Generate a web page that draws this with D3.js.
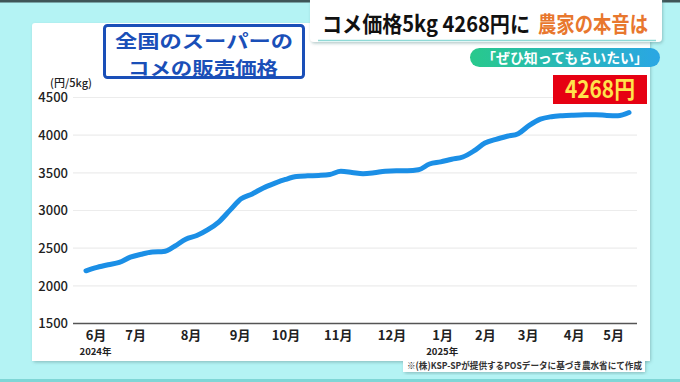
<!DOCTYPE html>
<html>
<head>
<meta charset="utf-8">
<script src="https://cdn.jsdelivr.net/npm/d3@7"></script>
<style>
  html, body { margin: 0; padding: 0; background: #b4f3f4; }
  svg { display: block; font-family: "Noto Sans CJK JP", "Noto Sans", sans-serif; }
</style>
</head>
<body>
<div id="chart"></div>
<script>
//begin: data
var firstWeek = "2024-06-03";
var prices = [
  2200, 2245, 2280, 2310, 2380, 2420, 2448, 2455, 2525, 2620,
  2668, 2745, 2850, 3005, 3155, 3220, 3300, 3360, 3412, 3450,
  3460, 3465, 3478, 3520, 3505, 3487, 3500, 3522, 3528, 3528,
  3540, 3617, 3645, 3680, 3710, 3790, 3895, 3945, 3985, 4020,
  4130, 4212, 4245, 4258, 4265, 4270, 4272, 4262, 4258, 4300
];
var yTicks = [1500, 2000, 2500, 3000, 3500, 4000, 4500];
var monthLabels = ["6月", "7月", "8月", "9月", "10月", "11月", "12月", "1月", "2月", "3月", "4月", "5月"];
var monthTickDates = ["2024-06-09", "2024-07-04", "2024-08-08", "2024-09-08", "2024-10-07", "2024-11-09",
  "2024-12-13", "2025-01-14", "2025-02-10", "2025-03-09", "2025-04-07", "2025-05-02"];
var yearLabels = ["2024年", "2025年"];
var yearTickDates = ["2024-06-09", "2025-01-14"];
var latestLabel = "4268円";
//end: data

var width = 680, height = 382;
var parseDate = d3.timeParse("%Y-%m-%d");
var start = parseDate(firstWeek);
var weeks = prices.map(function (d, i) { return { date: d3.timeDay.offset(start, 7 * i), value: d }; });

var x = d3.scaleTime()
  .domain([weeks[0].date, weeks[weeks.length - 1].date])
  .range([86, 629]);
var y = d3.scaleLinear()
  .domain([1500, 4500])
  .range([323.5, 97.5]);

var svg = d3.select("#chart").append("svg")
  .attr("width", width)
  .attr("height", height);

var defs = svg.append("defs");
var shadow = defs.append("filter").attr("id", "shadow")
  .attr("x", "-5%").attr("y", "-5%").attr("width", "110%").attr("height", "115%");
shadow.append("feDropShadow").attr("dx", 1).attr("dy", 1.5).attr("stdDeviation", 1.5)
  .attr("flood-color", "#5a8a8a").attr("flood-opacity", 0.45);
var pillGrad = defs.append("linearGradient").attr("id", "pill");
pillGrad.append("stop").attr("offset", "0%").attr("stop-color", "#28c98c");
pillGrad.append("stop").attr("offset", "100%").attr("stop-color", "#2aa6e4");

//begin: frame
svg.append("rect").attr("width", width).attr("height", height).attr("fill", "#b4f3f4");
svg.append("rect").attr("width", width).attr("height", 2.5).attr("fill", "#3f5557");
svg.append("rect").attr("y", 379).attr("width", width).attr("height", 3).attr("fill", "#7fd6d6");

svg.append("rect")
  .attr("x", 32).attr("y", 23).attr("width", 618).attr("height", 338)
  .attr("rx", 3).attr("fill", "#fff").attr("filter", "url(#shadow)");
svg.append("rect")
  .attr("x", 403).attr("y", 350).attr("width", 242).attr("height", 22)
  .attr("rx", 3).attr("fill", "#fff").attr("filter", "url(#shadow)");
svg.append("rect")
  .attr("x", 32).attr("y", 330).attr("width", 618).attr("height", 31).attr("fill", "#fff");
svg.append("rect")
  .attr("x", 403).attr("y", 350).attr("width", 242).attr("height", 22).attr("fill", "#fff");

// header
svg.append("rect")
  .attr("x", 310).attr("y", -5).attr("width", 352).attr("height", 47)
  .attr("rx", 4).attr("fill", "#fff").attr("filter", "url(#shadow)");
svg.append("line")
  .attr("x1", 318).attr("x2", 656).attr("y1", 40.5).attr("y2", 40.5)
  .attr("stroke", "#8fd9d6").attr("stroke-width", 1.5);
svg.append("text")
  .attr("x", 322).attr("y", 32)
  .attr("font-size", 22).attr("font-weight", 700).attr("fill", "#111")
  .attr("textLength", 208).attr("lengthAdjust", "spacingAndGlyphs")
  .text("コメ価格5kg 4268円に");
svg.append("text")
  .attr("x", 538).attr("y", 32)
  .attr("font-size", 22).attr("font-weight", 700).attr("fill", "#e8772e")
  .attr("textLength", 110).attr("lengthAdjust", "spacingAndGlyphs")
  .text("農家の本音は");

svg.append("rect")
  .attr("x", 470).attr("y", 48).attr("width", 190).attr("height", 19)
  .attr("rx", 9.5).attr("fill", "url(#pill)");
svg.append("text")
  .attr("x", 482).attr("y", 62.5)
  .attr("font-size", 14).attr("font-weight", 700).attr("fill", "#fff")
  .attr("textLength", 166).attr("lengthAdjust", "spacingAndGlyphs")
  .text("「ぜひ知ってもらいたい」");
//end: frame

// title box
svg.append("rect")
  .attr("x", 104.5).attr("y", 25.5).attr("width", 199).attr("height", 52)
  .attr("rx", 3).attr("fill", "#fff").attr("stroke", "#1a4fb8").attr("stroke-width", 3);
svg.append("text")
  .attr("x", 115).attr("y", 48)
  .attr("font-size", 18).attr("font-weight", 700).attr("fill", "#1a4fb8")
  .attr("textLength", 178).attr("lengthAdjust", "spacingAndGlyphs")
  .text("全国のスーパーの");
svg.append("text")
  .attr("x", 128).attr("y", 74.5)
  .attr("font-size", 18).attr("font-weight", 700).attr("fill", "#1a4fb8")
  .attr("textLength", 150).attr("lengthAdjust", "spacingAndGlyphs")
  .text("コメの販売価格");

//begin: axes
svg.append("text")
  .attr("x", 50).attr("y", 87)
  .attr("font-size", 11).attr("font-weight", 500).attr("fill", "#222")
  .text("(円/5kg)");

svg.append("g").classed("grid", true)
  .selectAll("line")
  .data(yTicks.slice(1))
  .enter().append("line")
  .attr("x1", 73).attr("x2", 637)
  .attr("y1", function (d) { return y(d); })
  .attr("y2", function (d) { return y(d); })
  .attr("stroke", "#ececec").attr("stroke-width", 1.2);

var yAxis = svg.append("g")
  .attr("transform", "translate(73,0)")
  .call(d3.axisLeft(y).tickValues(yTicks).tickSize(0).tickPadding(5).tickFormat(d3.format("d")));
yAxis.select(".domain").remove();
yAxis.selectAll("text")
  .attr("font-family", "'Noto Sans CJK JP', sans-serif")
  .attr("font-size", 13).attr("font-weight", 500).attr("fill", "#222");

svg.append("line")
  .attr("x1", 73).attr("x2", 637)
  .attr("y1", y(1500)).attr("y2", y(1500))
  .attr("stroke", "#555").attr("stroke-width", 1.6);

var xAxis = svg.append("g")
  .attr("transform", "translate(0," + y(1500) + ")")
  .call(d3.axisBottom(x)
    .tickValues(monthTickDates.map(parseDate))
    .tickSize(0).tickPadding(7)
    .tickFormat(function (d, i) { return monthLabels[i]; }));
xAxis.select(".domain").remove();
xAxis.selectAll("text")
  .attr("font-family", "'Noto Sans CJK JP', sans-serif")
  .attr("font-size", 13).attr("font-weight", 700).attr("fill", "#222");

svg.append("g").selectAll("text")
  .data(yearLabels)
  .enter().append("text")
  .attr("x", function (d, i) { return x(parseDate(yearTickDates[i])); })
  .attr("y", 355)
  .attr("text-anchor", "middle")
  .attr("font-size", 9.5).attr("font-weight", 700).attr("fill", "#222")
  .text(function (d) { return d; });
//end: axes

// price line
var line = d3.line()
  .x(function (d) { return x(d.date); })
  .y(function (d) { return y(d.value); })
  .curve(d3.curveMonotoneX);

svg.append("path")
  .datum(weeks)
  .attr("d", line)
  .attr("fill", "none")
  .attr("stroke", "#1b8fe6")
  .attr("stroke-width", 5)
  .attr("stroke-linecap", "round")
  .attr("stroke-linejoin", "round");

// latest price tag
svg.append("rect")
  .attr("x", 553).attr("y", 75).attr("width", 94).attr("height", 29)
  .attr("fill", "#e60012");
svg.append("text")
  .attr("x", 600).attr("y", 98)
  .attr("text-anchor", "middle")
  .attr("font-size", 24).attr("font-weight", 700).attr("fill", "#ffe34d")
  .attr("textLength", 70).attr("lengthAdjust", "spacingAndGlyphs")
  .text(latestLabel);

// source note
svg.append("text")
  .attr("x", 407).attr("y", 368.5)
  .attr("font-size", 9.5).attr("font-weight", 700).attr("fill", "#333")
  .attr("textLength", 235).attr("lengthAdjust", "spacingAndGlyphs")
  .text("※(株)KSP-SPが提供するPOSデータに基づき農水省にて作成");
</script>
</body>
</html>
